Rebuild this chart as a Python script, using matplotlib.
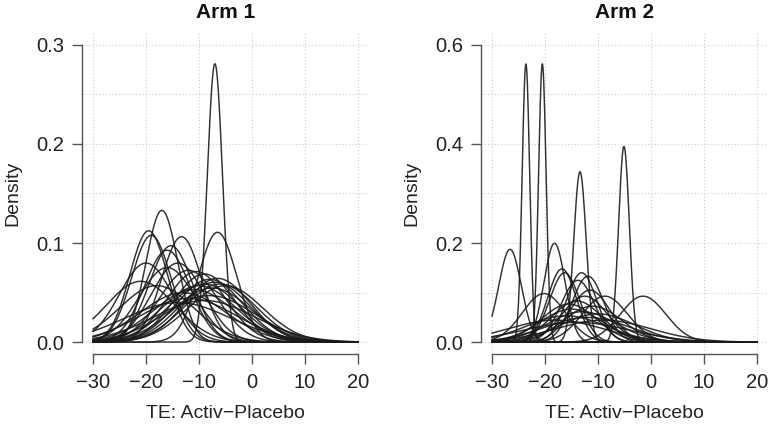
import numpy as np
import matplotlib
matplotlib.use("Agg")
import matplotlib.pyplot as plt

plt.rcParams['font.family'] = ['Liberation Sans', 'DejaVu Sans']

# Arm 1 normal curves: means and standard deviations
arm1_means = [-7.0, -6.5, -17.0, -19.5, -19.0, -13.3, -15.3, -16.0, -20.0, -16.0,
              -14.0, -12.0, -9.0, -8.0, -7.0, -6.0, -9.0, -10.0, -5.0, -7.5,
              -11.0, -13.0, -8.0, -12.0, -9.0, -14.0, -21.0, -18.0, -10.5, -6.5]
arm1_sds = [1.42, 3.6, 3.0, 3.55, 3.7, 3.75, 4.1, 4.3, 5.0, 5.3,
            5.0, 5.5, 5.8, 6.3, 6.6, 6.8, 6.8, 7.0, 7.0, 7.3,
            7.5, 8.0, 8.5, 9.0, 9.5, 10.0, 6.5, 7.0, 5.6, 6.2]

# Arm 2 normal curves: means and standard deviations
arm2_means = [-23.6, -20.5, -13.4, -5.1, -26.6, -18.2, -16.8, -16.3, -13.1, -11.9,
              -13.8, -20.2, -8.7, -1.5, -12.5, -14.0, -11.0, -15.0, -13.0, -10.0,
              -16.0, -12.0, -9.0, -14.0, -18.0, -15.5, -11.5]
arm2_sds = [0.71, 0.71, 1.16, 1.01, 2.13, 2.0, 2.7, 2.85, 2.85, 3.0,
            3.2, 4.07, 4.3, 4.3, 4.3, 4.8, 5.5, 6.0, 6.5, 7.0,
            7.5, 8.0, 9.0, 10.0, 9.0, 5.2, 3.8]

titles = ["Arm 1", "Arm 2"]
xlabel = "TE: Activ\u2212Placebo"
ylabel = "Density"
x_ticks = [-30, -20, -10, 0, 10, 20]
y_ticks_1 = [0.0, 0.1, 0.2, 0.3]
y_ticks_2 = [0.0, 0.2, 0.4, 0.6]
y_grid_1 = [0.0, 0.05, 0.1, 0.15, 0.2, 0.25, 0.3]
y_grid_2 = [0.0, 0.1, 0.2, 0.3, 0.4, 0.5, 0.6]

W, H = 769, 426
fig = plt.figure(figsize=(W / 100, H / 100), dpi=100)

def npdf(x, m, s):
    return np.exp(-0.5 * ((x - m) / s) ** 2) / (s * np.sqrt(2 * np.pi))

panels = [
    (82.4, arm1_means, arm1_sds, y_ticks_1, y_grid_1, 0.3),
    (481.4, arm2_means, arm2_sds, y_ticks_2, y_grid_2, 0.6),
]
xs = np.linspace(-30, 20, 600)
axis_col = '#555555'
for i, (left_px, means, sds, yt, yg, ymax) in enumerate(panels):
    ax = fig.add_axes([left_px / W, (H - 354) / H, 286.2 / W, (354 - 33) / H])
    ext = ymax * 0.04
    ax.set_xlim(-32, 22)
    ax.set_ylim(-ext, ymax + ext)
    for v in x_ticks:
        ax.axvline(v, color='#cccccc', lw=0.8, ls=(0, (1, 2)), zorder=0)
    for v in yg:
        ax.axhline(v, color='#cccccc', lw=0.8, ls=(0, (1, 2)), zorder=0)
    for m, s in zip(means, sds):
        ax.plot(xs, npdf(xs, m, s), color='#1a1a1a', lw=1.05, alpha=0.9)
    for sp in ['top', 'right']:
        ax.spines[sp].set_visible(False)
    ax.spines['bottom'].set_bounds(-30, 20)
    ax.spines['left'].set_bounds(0, ymax)
    for sp in ['bottom', 'left']:
        ax.spines[sp].set_color(axis_col)
        ax.spines[sp].set_linewidth(1.0)
    ax.set_xticks(x_ticks)
    ax.set_xticklabels([f"\u2212{abs(v)}" if v < 0 else str(v) for v in x_ticks])
    ax.set_yticks(yt)
    ax.set_yticklabels([f"{v:.1f}" for v in yt])
    ax.tick_params(axis='both', direction='out', length=7, width=1.0,
                   color=axis_col, labelsize=14.5, labelcolor='#222222')
    ax.tick_params(axis='x', pad=7)
    ax.tick_params(axis='y', pad=6)
    ax.set_title(titles[i], fontsize=15, fontweight='bold', pad=11, color='#111111')
    ax.set_xlabel(xlabel, fontsize=14, labelpad=9, color='#222222')
    ax.set_ylabel(ylabel, fontsize=14, labelpad=11, color='#222222')

fig.savefig("out.png", dpi=100)
